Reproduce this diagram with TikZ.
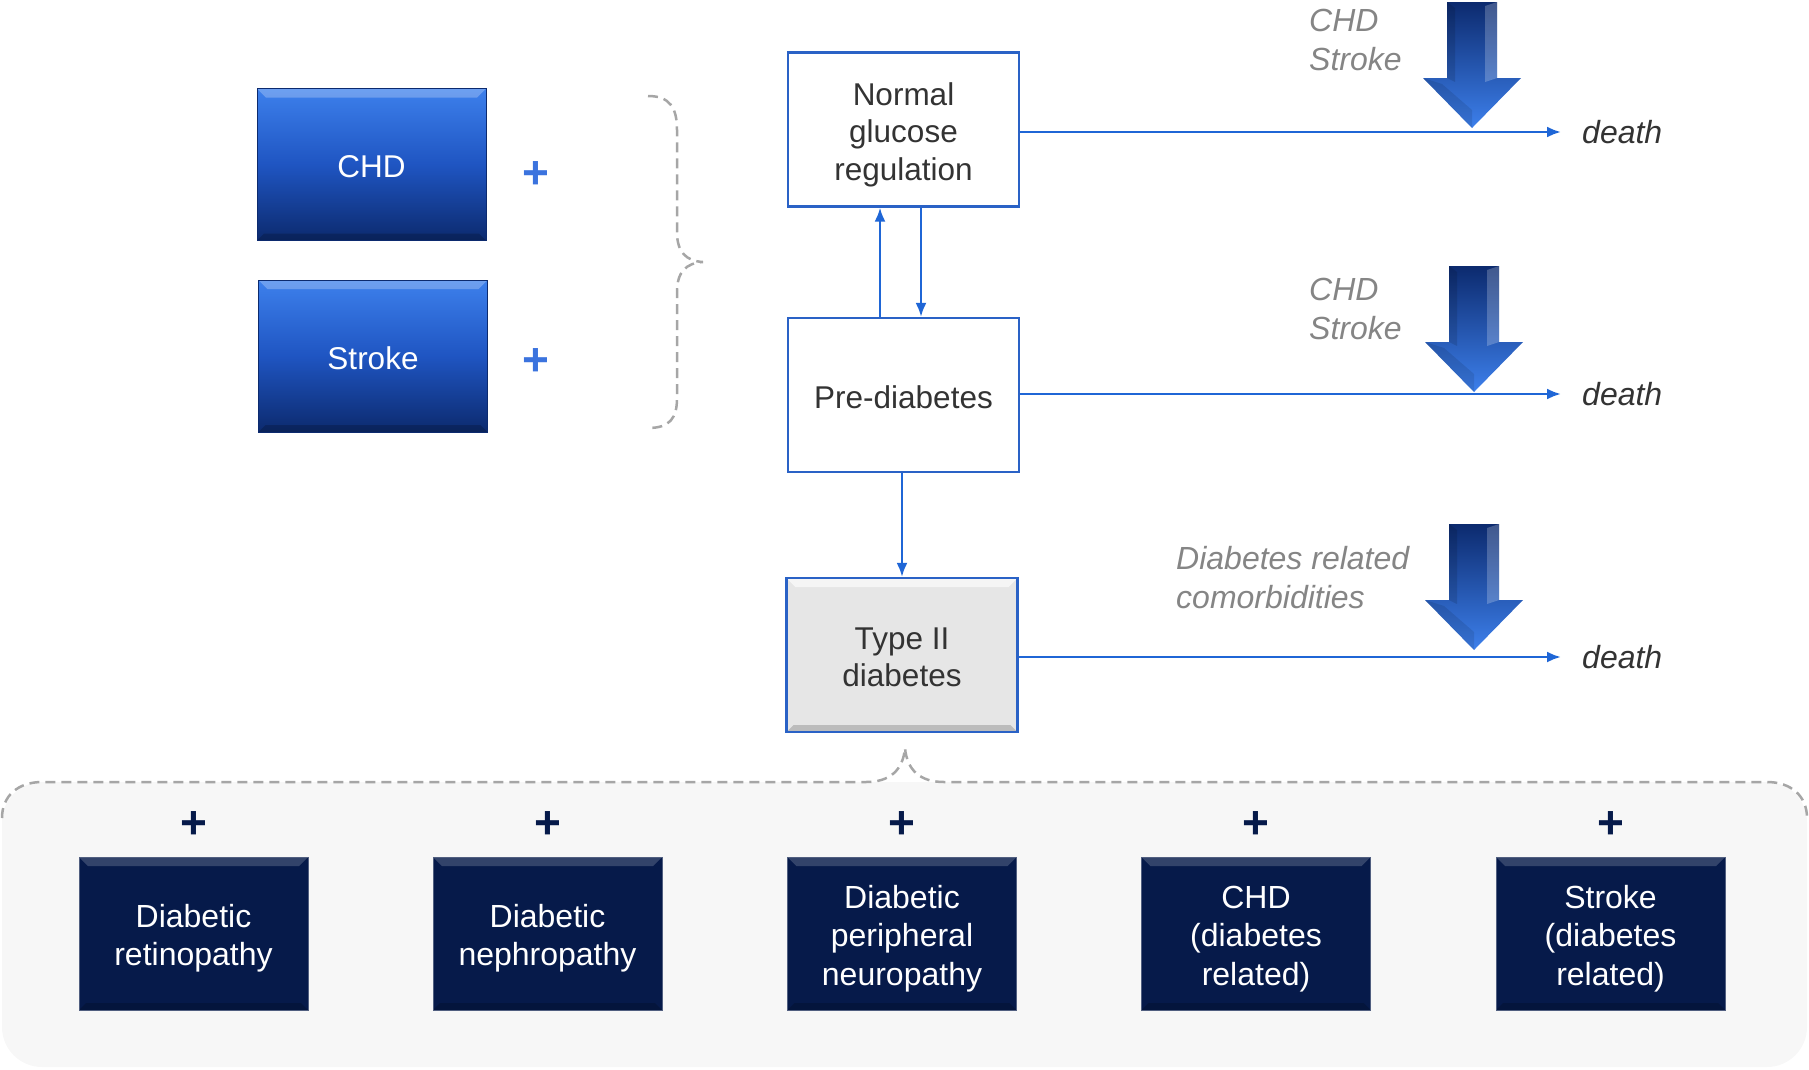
\documentclass[tikz,border=0pt]{standalone}
\usepackage{fontspec}
\setmainfont{Liberation Sans}
\usetikzlibrary{positioning}
\usetikzlibrary{arrows.meta}

\definecolor{linkblue}{HTML}{1F66D6}
\definecolor{boxedge}{HTML}{2A62C6}
\definecolor{navy}{HTML}{061A4A}
\definecolor{midblue}{HTML}{1F55C2}
\definecolor{lightblue}{HTML}{3D80EC}
\definecolor{darkblue}{HTML}{0C2A6E}
\definecolor{notegray}{HTML}{858585}
\definecolor{textgray}{HTML}{333333}
\definecolor{panelgray}{HTML}{F7F7F7}
\definecolor{dashgray}{HTML}{A6A6A6}
\definecolor{plusblue}{HTML}{3B73DE}
\definecolor{typegray}{HTML}{E6E6E6}

% line struts so that the text sits like in a slide text box
\newcommand\boxtopstrut{\rule{0pt}{33pt}}
\newcommand\boxbotstrut{\rule[-7pt]{0pt}{7pt}}

\begin{document}
\begin{tikzpicture}[x=1pt,y=-1pt,
	every node/.style={font=\fontsize{31.5}{37.5}\selectfont},
	bevel/.style={path picture={
		\fill[white,opacity=#1] (path picture bounding box.north west) -- (path picture bounding box.north east)
			-- ([xshift=-9pt,yshift=-9pt]path picture bounding box.north east) -- ([xshift=9pt,yshift=-9pt]path picture bounding box.north west) -- cycle;
		\fill[black,opacity=0.18] (path picture bounding box.south west) -- (path picture bounding box.south east)
			-- ([xshift=-7pt,yshift=7pt]path picture bounding box.south east) -- ([xshift=7pt,yshift=7pt]path picture bounding box.south west) -- cycle;}},
	stage/.style={draw=boxedge,line width=2.2pt,fill=white,minimum width=231pt,minimum height=154pt,align=center,text=textgray,inner sep=0pt},
	riskbox/.style={draw=darkblue,line width=1pt,top color=lightblue,bottom color=darkblue,middle color=midblue,minimum width=229pt,minimum height=152pt,text=white,inner sep=0pt,bevel=0.25},
	comorbid/.style={draw=navy!70!white,line width=1pt,fill=navy,minimum width=229pt,minimum height=153pt,align=center,text=white,inner sep=0pt,bevel=0.18,
		font=\fontsize{32}{38.5}\selectfont},
	plussign/.style={font=\fontsize{46}{46}\bfseries\selectfont,inner sep=0pt},
	deathtxt/.style={font=\fontsize{32}{36}\itshape\selectfont,text=textgray,anchor=west,inner sep=0pt},
	note/.style={font=\fontsize{32}{39}\itshape\selectfont,text=notegray,align=left,anchor=west,inner sep=0pt},
	link/.style={draw=linkblue,line width=2.5pt,-{Latex[length=14pt,width=11pt]}},
	dashline/.style={draw=dashgray,line width=2.5pt,dash pattern=on 10pt off 6pt}]
\useasboundingbox (0,0) rectangle (1809,1069);

% comorbidity panel
\fill[panelgray,rounded corners=40pt] (2,782) rectangle (1807,1067);
\draw[dashline] (2,818) .. controls (2,796) and (18,782) .. (42,782) -- (866,782)
	.. controls (890,782) and (903,770) .. (905,748)
	.. controls (907,770) and (920,782) .. (944,782) -- (1767,782)
	.. controls (1791,782) and (1807,796) .. (1807,818);

% risk factors on the left
\node[riskbox] (chd) at (371.5,164.5) {\boxtopstrut CHD\boxbotstrut};
\node[riskbox] (stroke) at (373,356) {\boxtopstrut Stroke\boxbotstrut};
\node[plussign,text=plusblue] (plusA) at (536,175) {+};
\node[plussign,text=plusblue] (plusB) at (536,362) {+};
\draw[dashline] (648,96) .. controls (670,96) and (677,108) .. (677,130) -- (677,232)
	.. controls (677,252) and (686,261) .. (703,262)
	.. controls (686,263) and (677,272) .. (677,292) -- (677,398)
	.. controls (677,418) and (670,428) .. (648,428);

% states
\node[stage] (normal) at (903.5,129.5) {\boxtopstrut Normal\\glucose\\regulation\boxbotstrut};
\node[stage] (prediab) at (903.5,395) {\boxtopstrut Pre-diabetes\boxbotstrut};
\node[stage,fill=typegray,bevel=0.6] (type2) at (902,655) {\boxtopstrut Type II\\diabetes\boxbotstrut};

\node[deathtxt] (deathA) at (1582,132) {death};
\node[deathtxt] (deathB) at (1582,394) {death};
\node[deathtxt] (deathC) at (1582,657) {death};

\node[note] (noteA) at (1309,40) {CHD\\Stroke};
\node[note] (noteB) at (1309,309) {CHD\\Stroke};
\node[note] (noteC) at (1176,578) {Diabetes related\\comorbidities};

% transitions
\draw[link] ([xshift=-23.5pt]prediab.north) -- ([xshift=-23.5pt]normal.south);
\draw[link] ([xshift=17.5pt]normal.south) -- ([xshift=17.5pt]prediab.north);
\draw[link] (prediab.south -| type2.north) -- (type2.north);
\draw[link,shorten >=21pt] (normal.east |- deathA.west) -- (deathA.west);
\draw[link,shorten >=21pt] (prediab.east |- deathB.west) -- (deathB.west);
\draw[link,shorten >=21pt] (type2.east |- deathC.west) -- (deathC.west);

% big downward arrows
\foreach \ax/\ay in {1472/2,1474/266,1474/524}{
	\shade[top color=darkblue,bottom color=lightblue]
	(\ax-25,\ay) -- (\ax+25,\ay) -- (\ax+25,\ay+76) -- (\ax+49,\ay+76)
	-- (\ax,\ay+126) -- (\ax-49,\ay+76) -- (\ax-25,\ay+76) -- cycle;
	\fill[white,opacity=0.22] (\ax+13,\ay+4) -- (\ax+25,\ay) -- (\ax+25,\ay+76) -- (\ax+13,\ay+80) -- cycle;
	\fill[black,opacity=0.12] (\ax-25,\ay) -- (\ax-17,\ay+6) -- (\ax-17,\ay+80) -- (\ax-25,\ay+76) -- cycle;
	\fill[black,opacity=0.10] (\ax-49,\ay+76) -- (\ax,\ay+126) -- (\ax,\ay+108) -- (\ax-30,\ay+82) -- cycle;
}

% diabetes related comorbidities
\foreach \name/\xc/\txt in {retino/193.5/{Diabetic\\retinopathy},nephro/547.5/{Diabetic\\nephropathy},neuro/902/{Diabetic\\peripheral\\neuropathy},chdd/1256/{CHD\\(diabetes\\related)},stroked/1610.5/{Stroke\\(diabetes\\related)}}{
	\node[comorbid] (\name) at (\xc,933.5) {\boxtopstrut\txt\boxbotstrut};
	\node[plussign,text=navy] at ([yshift=32pt]\name.north) {+};
}
\end{tikzpicture}
\end{document}
